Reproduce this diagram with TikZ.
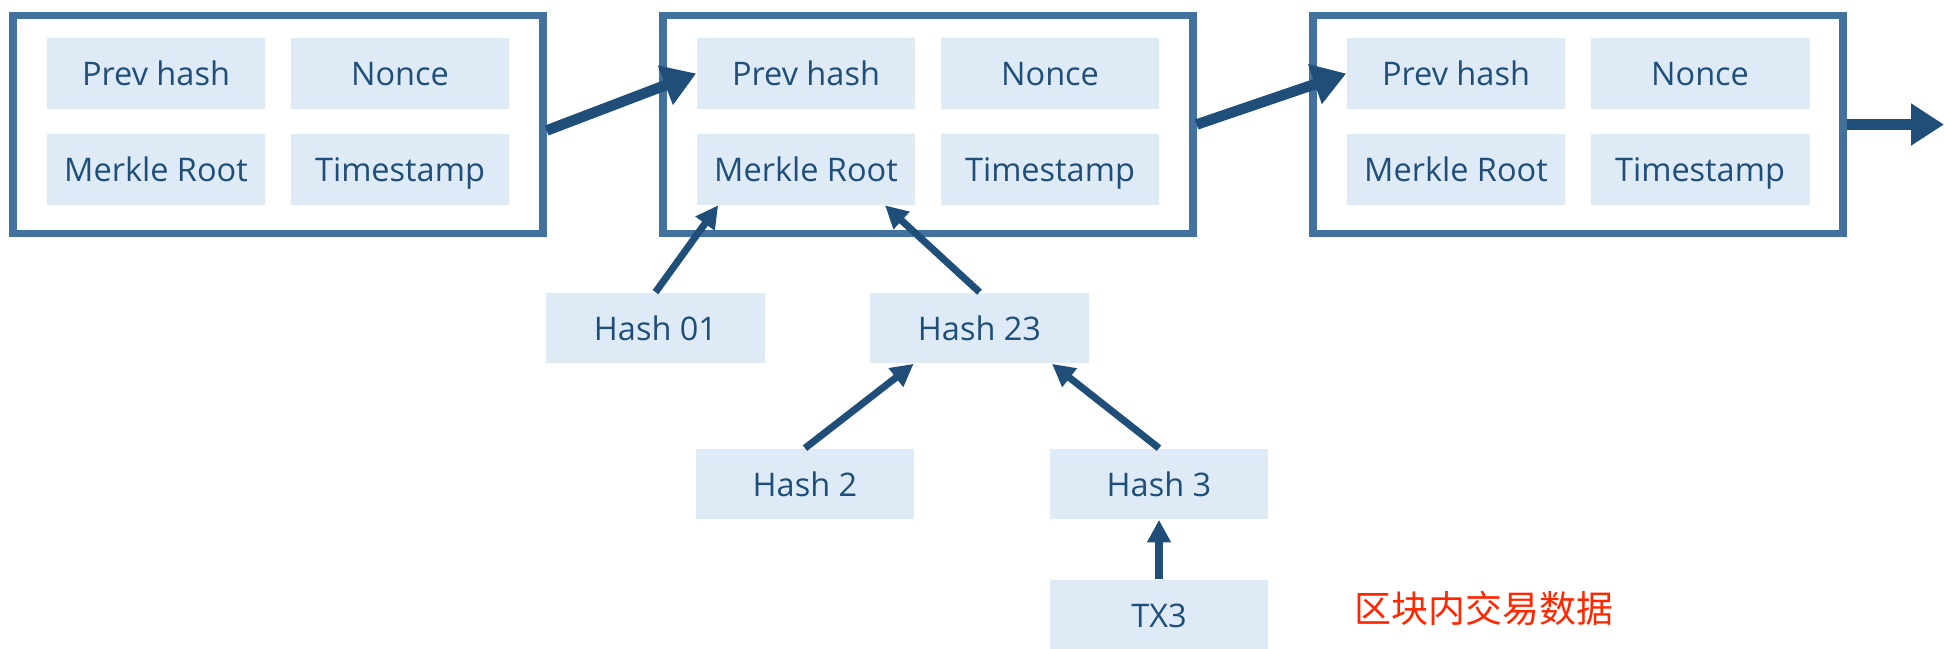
\documentclass[tikz,border=0pt]{standalone}
\usepackage{fontspec}
\setmainfont{Open Sans}
\newfontfamily\cjk{Noto Sans CJK SC}
\usetikzlibrary{positioning,calc,arrows.meta}
\definecolor{blockline}{RGB}{65,113,156}
\definecolor{cellfill}{RGB}{222,235,247}
\definecolor{celltext}{RGB}{31,78,121}
\definecolor{txtred}{RGB}{255,38,0}
\tikzset{block/.style={draw=blockline,line width=4.2pt,minimum width=10.6cm,minimum height=4.36cm,inner sep=0pt}}
\tikzset{cell/.style={fill=cellfill,text=celltext,minimum width=4.38cm,minimum height=1.42cm,inner sep=0pt,text height=17pt,text depth=3pt,font=\fontsize{18.5}{22}\selectfont}}
\tikzset{chain/.style={draw=celltext,line width=6pt,-{Triangle[length=0.66cm,width=0.8cm]}}}
\tikzset{link/.style={draw=celltext,line width=4pt,-{Triangle[length=0.45cm,width=0.45cm]}}}

\begin{document}
\begin{tikzpicture}[x=0.02cm,y=-0.02cm]
  \useasboundingbox (0,0) rectangle (1944,649);
  % blocks with header fields
        \foreach \i/\x in {1/278,2/928,3/1578}
        {
          \node[block] (b\i) at (\x,124.5) {};
          \node[cell] (ph\i) at (\x-122,73.5) {Prev hash};
          \node[cell] (nc\i) at (\x+122,73.5) {Nonce};
          \node[cell] (mr\i) at (\x-122,169.5) {Merkle Root};
          \node[cell] (ts\i) at (\x+122,169.5) {Timestamp};
        }
  \coordinate (next) at (1944,124.5);
  % merkle tree
  \node[cell] (h01) at (655.5,328) {Hash 01};
  \node[cell] (h23) at (979.5,328) {Hash 23};
  \node[cell] (h2) at (805,484) {Hash 2};
  \node[cell] (h3) at (1159,484) {Hash 3};
  \node[cell] (tx3) at (1159,615) {TX3};
  \node[text=txtred,font=\cjk\fontsize{21}{25}\selectfont] (txt) at (1484,608) {区块内交易数据};
  \draw[chain] ($(b1.east)+(0,6)$) -- (ph2.west);
  \draw[chain] (b2.east) -- (ph3.west);
  \draw[chain] (b3.east) -- (next);
  \draw[link] (h01.north) -- ($(mr2.south west)!0.1!(mr2.south east)$);
  \draw[link] (h23.north) -- ($(mr2.south west)!0.86!(mr2.south east)$);
  \draw[link] (h2.north) -- ($(h23.south west)!0.2!(h23.south east)$);
  \draw[link] (h3.north) -- ($(h23.south west)!0.83!(h23.south east)$);
  \draw[link] (tx3.north) -- (h3.south);
\end{tikzpicture}
\end{document}
